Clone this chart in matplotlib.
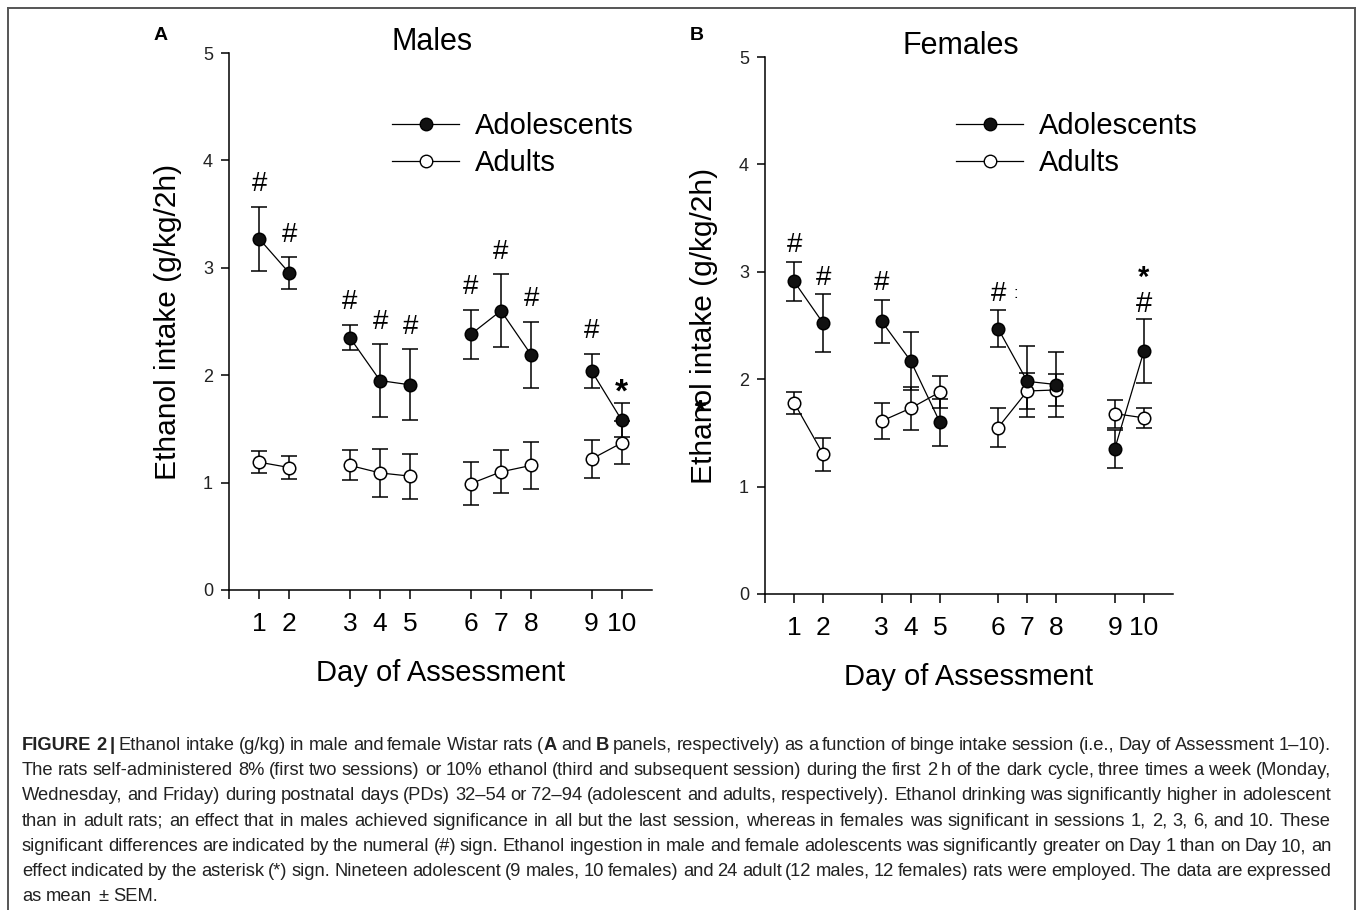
import matplotlib.pyplot as plt
import numpy as np
from matplotlib.lines import Line2D
from matplotlib.transforms import IdentityTransform
from matplotlib import font_manager

plt.rcParams['font.family'] = ['Liberation Sans', 'DejaVu Sans']
plt.rcParams['mathtext.fontset'] = 'custom'
plt.rcParams['mathtext.rm'] = 'Liberation Sans'
plt.rcParams['mathtext.bf'] = 'Liberation Sans:bold'

# session day and testing week (gap between weeks on the x axis)
days = [1, 2, 3, 4, 5, 6, 7, 8, 9, 10]
week = [1, 1, 2, 2, 2, 3, 3, 3, 4, 4]

# males (panel A)
male_adol = [3.27, 2.95, 2.35, 1.95, 1.91, 2.38, 2.60, 2.19, 2.04, 1.58]
male_adol_sem = [0.30, 0.15, 0.12, 0.34, 0.33, 0.23, 0.34, 0.31, 0.16, 0.16]
male_adult = [1.19, 1.14, 1.16, 1.09, 1.06, 0.99, 1.10, 1.16, 1.22, 1.37]
male_adult_sem = [0.10, 0.11, 0.14, 0.22, 0.21, 0.20, 0.20, 0.22, 0.18, 0.20]
male_hash = [1, 1, 1, 1, 1, 1, 1, 1, 1, 0]
male_star = [0, 0, 0, 0, 0, 0, 0, 0, 0, 1]

# females (panel B)
female_adol = [2.91, 2.52, 2.54, 2.17, 1.60, 2.47, 1.98, 1.95, 1.35, 2.26]
female_adol_sem = [0.18, 0.27, 0.20, 0.27, 0.22, 0.17, 0.33, 0.30, 0.18, 0.30]
female_adult = [1.78, 1.30, 1.61, 1.73, 1.88, 1.55, 1.89, 1.90, 1.68, 1.64]
female_adult_sem = [0.10, 0.155, 0.17, 0.20, 0.15, 0.18, 0.165, 0.15, 0.13, 0.09]
female_hash = [1, 1, 1, 0, 0, 1, 0, 0, 0, 1]
female_star = [0, 0, 0, 0, 0, 0, 0, 0, 0, 1]

caption = [
    [('FIGURE 2 |', True), (' Ethanol intake (g/kg) in male and female Wistar rats (', False), ('A', True),
     (' and ', False), ('B', True),
     (' panels, respectively) as a function of binge intake session (i.e., Day of Assessment 1\u201310).', False)],
    [('The rats self-administered 8% (first two sessions) or 10% ethanol (third and subsequent session) '
      'during the first 2 h of the dark cycle, three times a week (Monday,', False)],
    [('Wednesday, and Friday) during postnatal days (PDs) 32\u201354 or 72\u201394 (adolescent and adults, '
      'respectively). Ethanol drinking was significantly higher in adolescent', False)],
    [('than in adult rats; an effect that in males achieved significance in all but the last session, '
      'whereas in females was significant in sessions 1, 2, 3, 6, and 10. These', False)],
    [('significant differences are indicated by the numeral (#) sign. Ethanol ingestion in male and female '
      'adolescents was significantly greater on Day 1 than on Day 10, an', False)],
    [('effect indicated by the asterisk (*) sign. Nineteen adolescent (9 males, 10 females) and 24 adult '
      '(12 males, 12 females) rats were employed. The data are expressed', False)],
    [('as mean \u00b1 SEM.', False)],
]

x = np.array(days) + np.array(week) - 1

W, H = 1357, 910
fig = plt.figure(figsize=(W / 100, H / 100), dpi=100)
px = IdentityTransform()


def draw_panel(rect, title, adol, adol_sem, adult, adult_sem, hashes, stars, hash_off):
    ax = fig.add_axes(rect)
    adol = np.array(adol)
    adult = np.array(adult)
    ax.errorbar(x, adult, yerr=adult_sem, fmt='none', ecolor='k', elinewidth=1.1,
                capsize=6, capthick=1.1, zorder=2)
    ax.errorbar(x, adol, yerr=adol_sem, fmt='none', ecolor='k', elinewidth=1.1,
                capsize=6, capthick=1.1, zorder=2)
    wk = np.array(week)
    for w in np.unique(wk):
        m = wk == w
        ax.plot(x[m], adult[m], color='k', lw=0.9, zorder=3)
        ax.plot(x[m], adol[m], color='k', lw=0.9, zorder=3)
    ax.plot(x, adult, 'o', ms=9, mfc='white', mec='k', mew=1.1, ls='none', zorder=4)
    ax.plot(x, adol, 'o', ms=9, mfc='#111111', mec='k', mew=1.1, ls='none', zorder=5)

    top = adol + np.array(adol_sem)
    for xi, ti, h, s in zip(x, top, hashes, stars):
        if h and s:
            # asterisk stacked over the numeral sign
            ax.annotate('$\\mathbf{*}$\n#', (xi, ti), xytext=(0, 1), textcoords='offset points',
                        ha='center', va='bottom', fontsize=21, linespacing=0.95)
        elif h:
            ax.annotate('#', (xi, ti), xytext=(0, hash_off), textcoords='offset points',
                        ha='center', va='center', fontsize=20)
        elif s:
            ax.annotate('*', (xi, ti), xytext=(0, 7.5), textcoords='offset points',
                        ha='center', va='center', fontsize=24, fontweight='bold')

    ax.set_xlim(0, 14)
    ax.set_ylim(0, 5)
    ax.set_xticks([0] + list(x))
    ax.set_xticklabels([''] + [str(d) for d in days])
    ax.set_yticks(range(6))
    ax.spines['top'].set_visible(False)
    ax.spines['right'].set_visible(False)
    for s in ('left', 'bottom'):
        ax.spines[s].set_linewidth(1.1)
    ax.tick_params(axis='y', labelsize=13, length=5.5, width=1.1, pad=6, labelcolor='#222222')
    ax.tick_params(axis='x', labelsize=19, length=6.5, width=1.1, pad=9)
    ax.set_ylabel('Ethanol intake (g/kg/2h)', fontsize=21.5, labelpad=15)
    ax.set_xlabel('Day of Assessment', fontsize=21, labelpad=17)
    ax.set_title(title, fontsize=22, pad=2.5, x=0.48, y=1.0)
    return ax


axA = draw_panel([229 / W, 1 - 590 / H, 423 / W, 537 / H], 'Males',
                 male_adol, male_adol_sem, male_adult, male_adult_sem, male_hash, male_star, 16)
axB = draw_panel([765 / W, 1 - 594 / H, 408 / W, 537 / H], 'Females',
                 female_adol, female_adol_sem, female_adult, female_adult_sem, female_hash, female_star, 12)

# small stray marks seen in panel B
axB.annotate(':', (x[5], female_adol[5] + female_adol_sem[5]), xytext=(13, 12),
             textcoords='offset points', ha='center', va='center', fontsize=12)
fig.add_artist(Line2D([700], [H - 405], transform=px, marker='$*$', ms=7, color='k', ls='none'))

handles = [Line2D([], [], color='k', lw=0.9, marker='o', ms=9, mfc='#111111', mec='k'),
           Line2D([], [], color='k', lw=0.9, marker='o', ms=9, mfc='white', mec='k')]
for ax, lx in ((axA, 392), (axB, 956)):
    ax.legend(handles, ['Adolescents', 'Adults'], loc='upper left',
              bbox_to_anchor=(lx / W, 1 - 112 / H), bbox_transform=fig.transFigure,
              frameon=False, fontsize=21, handlelength=2.3, handletextpad=0.55,
              labelspacing=0.3, borderpad=0, borderaxespad=0)

fig.text(161, H - 36, 'A', transform=px, fontsize=14, fontweight='bold', ha='center', va='center')
fig.text(697, H - 36, 'B', transform=px, fontsize=14, fontweight='bold', ha='center', va='center')

# frame around the figure
for xs, ys in (([7.5, 1355], [H - 8, H - 8]), ([7.5, 7.5], [H - 8, -5]), ([1355, 1355], [H - 8, -5])):
    fig.add_artist(Line2D(xs, ys, transform=px, color='#555555', lw=1.4))

# caption, justified line by line
names = {f.name for f in font_manager.fontManager.ttflist}
cap_family = 'Liberation Sans Narrow' if 'Liberation Sans Narrow' in names else 'Liberation Sans'
cap_fs = 13.2
cap_color = '#222222'
x0, x1 = 22, 1331
fig.canvas.draw()
rend = fig.canvas.get_renderer()


def text_w(t):
    return t.get_window_extent(rend).width


probe1 = fig.text(0, 0, 'a a', transform=px, fontsize=cap_fs, family=cap_family)
probe2 = fig.text(0, 0, 'aa', transform=px, fontsize=cap_fs, family=cap_family)
space = text_w(probe1) - text_w(probe2)
probe1.remove()
probe2.remove()

for i, segs in enumerate(caption):
    yb = round(H - (750 + 25.2 * i))
    words = [[]]
    for s, bold in segs:
        parts = s.split(' ')
        for k, p in enumerate(parts):
            if k > 0:
                words.append([])
            if p:
                words[-1].append((p, bold))
    words = [w for w in words if w]
    placed = []
    for w in words:
        pieces = []
        for p, bold in w:
            t = fig.text(0, yb, p, transform=px, fontsize=cap_fs, family=cap_family,
                         fontweight='bold' if bold else 'normal', color=cap_color,
                         ha='left', va='baseline')
            pieces.append((t, text_w(t)))
        placed.append(pieces)
    total = sum(wd for pcs in placed for _, wd in pcs)
    last = i == len(caption) - 1
    gap = space if last else max((x1 - x0 - total) / (len(placed) - 1), space * 0.6)
    cx = x0
    for pcs in placed:
        for t, wd in pcs:
            t.set_x(round(cx))
            cx += wd
        cx += gap

fig.savefig('out.png', dpi=100)
